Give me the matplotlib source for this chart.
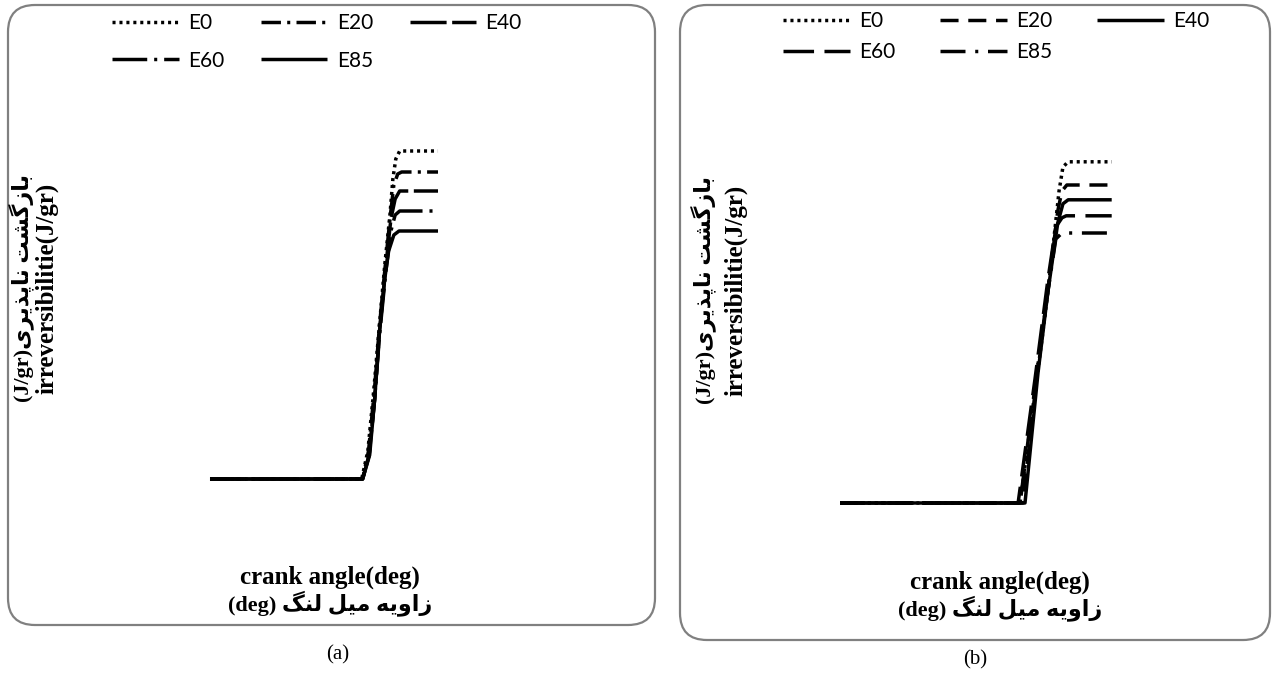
import matplotlib
matplotlib.use("Agg")
import matplotlib.pyplot as plt
from matplotlib.patches import FancyBboxPatch

plt.rcParams["lines.scale_dashes"] = False

W, H, DPI = 1281, 677, 100

SERIES = ["E0", "E20", "E40", "E60", "E85"]

# panel (a): crank angle (deg) vs cumulative irreversibility (J/gr)
a_e0_deg = [-245, -11.5, -2, 7, 15, 24, 32, 36.5, 41, 47, 106]
a_e0_val = [0, 0, 0.07, 0.22, 0.37, 0.535, 0.66, 0.75, 0.80, 0.82, 0.82]
a_e20_deg = [-245, -10, -1, 8, 16, 24, 32, 38, 44, 50, 106]
a_e20_val = [0, 0, 0.07, 0.22, 0.385, 0.52, 0.65, 0.735, 0.7625, 0.7675, 0.7675]
a_e40_deg = [-245, -10, 0, 8.5, 16, 25.8, 33.5, 40, 47, 106]
a_e40_val = [0, 0, 0.06, 0.20, 0.37, 0.535, 0.65, 0.70, 0.72, 0.72]
a_e60_deg = [-245, -10, 0, 8.5, 16, 25.8, 33.5, 40, 47, 106]
a_e60_val = [0, 0, 0.06, 0.20, 0.36, 0.52, 0.62, 0.66, 0.67, 0.67]
a_e85_deg = [-245, -10, 0.8, 8.5, 16, 24, 30, 38, 46, 106]
a_e85_val = [0, 0, 0.06, 0.20, 0.37, 0.50, 0.57, 0.61, 0.62, 0.62]

# panel (b)
b_e0_deg = [-285, -8, 25.8, 41, 52, 58, 66, 133]
b_e0_val = [0, 0, 0.41, 0.615, 0.78, 0.84, 0.853, 0.853]
b_e20_deg = [-285, -3.5, 19.6, 38, 50, 56.5, 64, 133]
b_e20_val = [0, 0, 0.345, 0.57, 0.73, 0.78, 0.795, 0.795]
b_e40_deg = [-285, -0.4, 19.6, 35, 50, 58, 66, 133]
b_e40_val = [0, 0, 0.325, 0.53, 0.70, 0.748, 0.758, 0.758]
b_e60_deg = [-285, -11, 15, 35, 47, 56.5, 63, 133]
b_e60_val = [0, 0, 0.31, 0.56, 0.69, 0.713, 0.718, 0.718]
b_e85_deg = [-285, -8, 16.5, 35, 47, 56.5, 133]
b_e85_val = [0, 0, 0.31, 0.53, 0.66, 0.675, 0.675]

# dash patterns in points
DOT = (0, (2.2, 2.8))
STYLES_A = [DOT, (0, (14, 4.5, 2.2, 4.5)), (0, (26, 4)), (0, (25, 5, 2.2, 5)), "-"]
STYLES_B = [DOT, (0, (13, 7)), "-", (0, (22, 7.5)), (0, (18, 7, 2.2, 7))]

# joining forms for the Persian letters used: isolated, final, initial, medial
FORMS = {
    "ا": ("\uFE8D", "\uFE8E", None, None),
    "ب": ("\uFE8F", "\uFE90", "\uFE91", "\uFE92"),
    "پ": ("\uFB56", "\uFB57", "\uFB58", "\uFB59"),
    "ت": ("\uFE95", "\uFE96", "\uFE97", "\uFE98"),
    "ذ": ("\uFEAB", "\uFEAC", None, None),
    "ر": ("\uFEAD", "\uFEAE", None, None),
    "ز": ("\uFEAF", "\uFEB0", None, None),
    "ش": ("\uFEB5", "\uFEB6", "\uFEB7", "\uFEB8"),
    "گ": ("\uFB92", "\uFB93", "\uFB94", "\uFB95"),
    "ل": ("\uFEDD", "\uFEDE", "\uFEDF", "\uFEE0"),
    "م": ("\uFEE1", "\uFEE2", "\uFEE3", "\uFEE4"),
    "ن": ("\uFEE5", "\uFEE6", "\uFEE7", "\uFEE8"),
    "ه": ("\uFEE9", "\uFEEA", "\uFEEB", "\uFEEC"),
    "و": ("\uFEED", "\uFEEE", None, None),
    "ی": ("\uFBFC", "\uFBFD", "\uFBFE", "\uFBFF"),
}


def fa(text):
    """Shape Persian text and put it in visual (left-to-right) order."""
    out = []
    for i, ch in enumerate(text):
        f = FORMS.get(ch)
        if f is None:
            out.append(ch)
            continue
        prev = text[i - 1] if i > 0 else ""
        nxt = text[i + 1] if i + 1 < len(text) else ""
        j_prev = prev in FORMS and FORMS[prev][2] is not None
        j_next = nxt in FORMS and f[2] is not None
        if j_prev and j_next:
            out.append(f[3])
        elif j_prev:
            out.append(f[1])
        elif j_next:
            out.append(f[2])
        else:
            out.append(f[0])
    return "".join(reversed(out))


YLAB_FA = "(J/gr)" + fa("بازگشت ناپذیری")
YLAB_EN = "irreversibilitie(J/gr)"
XLAB_EN = "crank angle(deg)"
XLAB_FA = "(deg) " + fa("زاویه میل لنگ")

LABEL_FONT = dict(family=["Liberation Serif", "DejaVu Sans"], weight="bold", size=18)
FA_FONT = dict(LABEL_FONT, size=16)


def fx(px):
    return px / W


def fy(py):
    return 1 - py / H


fig = plt.figure(figsize=(W / DPI, H / DPI), dpi=DPI)

# rounded frames around each panel (pixel boxes: left, top, right, bottom)
for x0, y0, x1, y1 in [(8, 5, 655, 625), (680, 5, 1270, 640)]:
    fig.add_artist(FancyBboxPatch(
        (x0 / DPI, (H - y1) / DPI), (x1 - x0) / DPI, (y1 - y0) / DPI,
        boxstyle="round,pad=0,rounding_size=0.27", transform=fig.dpi_scale_trans,
        fc="none", ec="#808080", lw=1.6))


def panel(rect, xlim, ylim, curves, styles, leg_xy, colsp, rowsp):
    ax = fig.add_axes(rect)
    handles = []
    for (deg, val), ls in zip(curves, styles):
        h, = ax.plot(deg, val, color="black", lw=2.5, ls=ls, solid_capstyle="butt",
                     dash_capstyle="butt")
        handles.append(h)
    ax.set_xlim(*xlim)
    ax.set_ylim(*ylim)
    ax.axis("off")
    # row-wise legend order for 3 columns
    order = [0, 3, 1, 4, 2]
    ax.legend([handles[i] for i in order], [SERIES[i] for i in order], ncol=3,
              loc="upper left", bbox_to_anchor=leg_xy, bbox_transform=fig.transFigure,
              frameon=False, borderpad=0, borderaxespad=0, handlelength=3.2,
              handletextpad=0.45, columnspacing=colsp, labelspacing=rowsp,
              prop=dict(family="Lato", size=15))
    return ax


panel([fx(200.25), fy(491), (450.35 - 200.25) / W, (491 - 139) / H],
      (-260, 125), (-0.03, 0.85),
      [(a_e0_deg, a_e0_val), (a_e20_deg, a_e20_val), (a_e40_deg, a_e40_val),
       (a_e60_deg, a_e60_val), (a_e85_deg, a_e85_val)],
      STYLES_A, (fx(112), fy(13)), 1.75, 0.85)

panel([fx(830.25), fy(515), (1122.75 - 830.25) / W, (515 - 143) / H],
      (-300, 150), (-0.03, 0.9),
      [(b_e0_deg, b_e0_val), (b_e20_deg, b_e20_val), (b_e40_deg, b_e40_val),
       (b_e60_deg, b_e60_val), (b_e85_deg, b_e85_val)],
      STYLES_B, (fx(783), fy(11)), 2.15, 0.55)

# axis titles
for cx, y1, y2 in [(330, 577, 603), (1000, 582, 608)]:
    fig.text(fx(cx), fy(y1), XLAB_EN, ha="center", va="center", **LABEL_FONT)
    fig.text(fx(cx), fy(y2), XLAB_FA, ha="center", va="center", **FA_FONT)

for x1, x2, cy in [(21, 47, 288), (703, 736, 290)]:
    fig.text(fx(x1), fy(cy), YLAB_FA, rotation=90, ha="center", va="center", **FA_FONT)
    fig.text(fx(x2), fy(cy), YLAB_EN, rotation=90, ha="center", va="center", **LABEL_FONT)

fig.text(fx(338), fy(655), "(a)", ha="center", va="center",
         family="Liberation Serif", size=15)
fig.text(fx(975), fy(660), "(b)", ha="center", va="center",
         family="Liberation Serif", size=15)

fig.savefig("out.png", dpi=DPI)
